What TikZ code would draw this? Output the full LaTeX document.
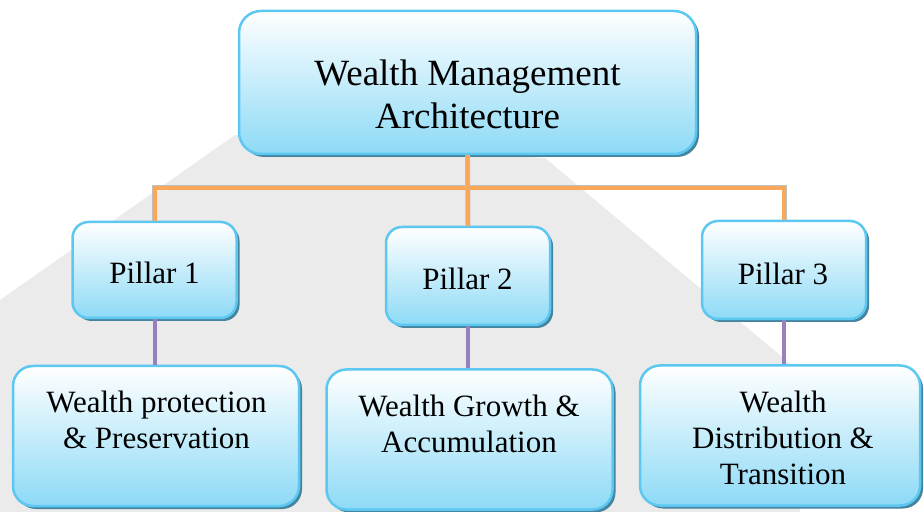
\documentclass[tikz,border=0pt]{standalone}
\usepackage{fontspec}
\newfontfamily\boxFont{Liberation Serif}
\usetikzlibrary{shadows}
\usepackage{xcolor}
\definecolor{skyEdge}{HTML}{5CC8F1}
\definecolor{skyFill}{HTML}{8DDAF6}
\definecolor{skyShadow}{HTML}{44849E}
\definecolor{linkOrange}{HTML}{F9A85A}
\definecolor{linkPurple}{HTML}{9A7FBE}
\definecolor{markGray}{HTML}{EBEBEB}
\tikzset{
    % Boxes
    box/.style={rectangle, draw=skyEdge, line width=1.25pt,
                top color=white, bottom color=skyFill,
                drop shadow={shadow xshift=1.5pt, shadow yshift=-1.5pt, fill=skyShadow, opacity=1}},
    headBox/.style={box, rounded corners=11pt, minimum width=228.5pt, minimum height=71.5pt},
    pillarBox/.style={box, rounded corners=8pt, minimum width=82pt, minimum height=48pt},
    areaBox/.style={box, rounded corners=10pt, minimum width=143pt, minimum height=70pt},
    % Text
    headText/.style={align=center, inner sep=0pt, font=\boxFont\fontsize{18.5}{21.5}\selectfont},
    bodyText/.style={align=center, inner sep=0pt, font=\boxFont\fontsize{15.5}{18}\selectfont},
    % Links
    orangeLink/.style={draw=linkOrange, line width=2pt,
                       preaction={draw=black!25, line width=2.5pt}},
    purpleLink/.style={draw=linkPurple, line width=2pt}
}

\begin{document}
\begin{tikzpicture}[x=0.5pt, y=-0.5pt]
\useasboundingbox (0,0) rectangle (924,512);

% faint backdrop
\fill[markGray] (0,300) -- (235,135) -- (545,158) -- (800,372) -- (800,512) -- (0,512) -- cycle;

% boxes
\node[headBox] (root) at (467.5,82.5) {};
\node[pillarBox] (p1) at (154.5,270) {};
\node[pillarBox, minimum height=49pt] (p2) at (468,276) {};
\node[pillarBox, minimum height=49pt] (p3) at (784,270) {};
\node[areaBox] (a1) at (156,436) {};
\node[areaBox] (a2) at (469.5,439.5) {};
\node[areaBox, minimum width=140pt] (a3) at (780,435.5) {};

% labels
\node[headText] (rootTxt) at (467.5,94) {Wealth Management\\Architecture};
\node[bodyText] (p1Txt) at (154.5,273) {Pillar 1};
\node[bodyText] (p2Txt) at (467.5,278.5) {Pillar 2};
\node[bodyText] (p3Txt) at (783,274) {Pillar 3};
\node[bodyText] (a1Txt) at (156.5,420) {Wealth protection\\\& Preservation};
\node[bodyText] (a2Txt) at (469,424) {Wealth Growth \&\\Accumulation};
\node[bodyText] (a3Txt) at (783,438) {Wealth\\Distribution \&\\Transition};

% links
\coordinate (hub) at (467.5,188);
\draw[orangeLink] (p1.north) |- (hub) -| (p3.north);
\draw[orangeLink] (root.south) -- (p2.north);
\draw[purpleLink] (p1.south) -- (p1.south |- a1.north);
\draw[purpleLink] (p2.south) -- (p2.south |- a2.north);
\draw[purpleLink] (p3.south) -- (p3.south |- a3.north);

\end{tikzpicture}
\end{document}
